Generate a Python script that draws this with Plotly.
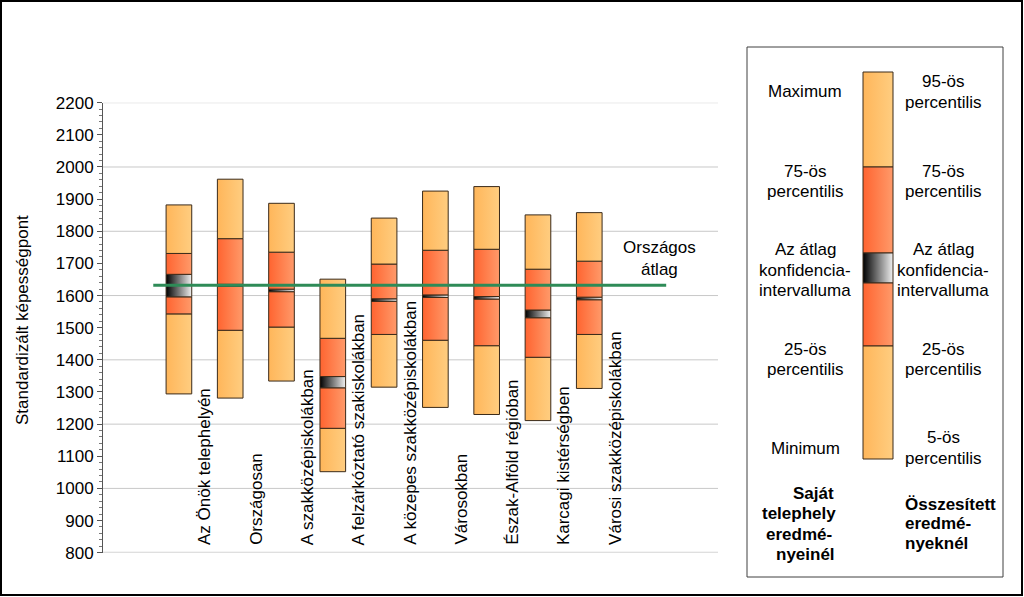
import plotly.graph_objects as go

# ---------------- data ----------------
categories = ["Az Önök telephelyén", "Országosan", "A szakközépiskolákban",
              "A felzárkóztató szakiskolákban", "A közepes szakközépiskolákban",
              "Városokban", "Észak-Alföld régióban", "Karcagi kistérségben",
              "Városi szakközépiskolákban"]
p5 = [1294, 1281, 1334, 1052, 1315, 1252, 1230, 1211, 1311]
p25 = [1543, 1492, 1502, 1187, 1479, 1461, 1444, 1408, 1479]
ci_low = [1596, 1629, 1612, 1313, 1582, 1594, 1589, 1531, 1587]
ci_high = [1666, 1635, 1620, 1348, 1590, 1602, 1597, 1555, 1595]
p75 = [1731, 1777, 1735, 1467, 1698, 1741, 1744, 1682, 1707]
p95 = [1882, 1962, 1887, 1651, 1841, 1925, 1939, 1851, 1858]
national_mean = 1632
national_label = "Országos<br>átlag"
y_title = "Standardizált képességpont"
y_ticks = list(range(800, 2201, 100))
grid_vals = list(range(800, 2201, 200))

# ---------------- styles ----------------
W, H = 1024, 597
FONT = "Liberation Sans, Arial, sans-serif"
LIGHT = [[0, "#FFB65A"], [1, "#FFCD80"]]
RED = [[0, "#FF6430"], [1, "#FF9A6A"]]
CI = [[0, "#000000"], [1, "#F0F0F0"]]
EDGE = "#3a2a1a"
half_w = 0.25

def px_x(p):
    return p / W

def px_y(p):
    return 1 - p / H

fig = go.Figure()

def seg(x, lo, hi, cs, xa="x", ya="y", hw=half_w):
    fig.add_trace(go.Scatter(
        x=[x - hw, x + hw, x + hw, x - hw, x - hw],
        y=[lo, lo, hi, hi, lo],
        mode="lines", fill="toself",
        fillgradient=dict(type="horizontal", colorscale=cs),
        line=dict(color=EDGE, width=1),
        xaxis=xa, yaxis=ya, hoverinfo="skip", showlegend=False))

for i in range(len(categories)):
    seg(i, p5[i], p25[i], LIGHT)
    seg(i, p25[i], ci_low[i], RED)
    seg(i, ci_low[i], ci_high[i], CI)
    seg(i, ci_high[i], p75[i], RED)
    seg(i, p75[i], p95[i], LIGHT)

# national average line
fig.add_trace(go.Scatter(
    x=[-0.5, len(categories) + 0.5], y=[national_mean, national_mean],
    mode="lines", line=dict(color="#2E8B57", width=3),
    hoverinfo="skip", showlegend=False))

# ---------------- legend key (pixel axes) ----------------
key_x0, key_x1 = 863, 893
key_b = [72, 167, 253, 283, 346, 459]
key_cs = [LIGHT, RED, CI, RED, LIGHT]
for k in range(5):
    seg((key_x0 + key_x1) / 2, key_b[k], key_b[k + 1], key_cs[k],
        xa="x2", ya="y2", hw=(key_x1 - key_x0) / 2)

shapes = []
for g in grid_vals:
    shapes.append(dict(type="line", xref="x domain", yref="y", x0=0, x1=1,
                       y0=g, y1=g, layer="below",
                       line=dict(color="#C8C8C8" if g > 800 else "#D4D4D4",
                                 width=1 if g > 800 else 2)))
# legend frame
shapes.append(dict(type="rect", xref="paper", yref="paper",
                   x0=px_x(747), x1=px_x(1003), y0=px_y(577), y1=px_y(47),
                   line=dict(color="#404040", width=1)))
# outer frame
shapes.append(dict(type="rect", xref="paper", yref="paper",
                   x0=px_x(1), x1=px_x(1022), y0=px_y(595), y1=px_y(1),
                   line=dict(color="#000000", width=2)))

ann = []
for i, c in enumerate(categories):
    ann.append(dict(text=c, x=i + 0.5, xref="x", y=px_y(547), yref="paper",
                    textangle=-90, xanchor="center", yanchor="bottom",
                    showarrow=False, font=dict(size=17, color="black")))
ann.append(dict(text=national_label, x=9.36, xref="x", y=px_y(259),
                yref="paper", showarrow=False, xanchor="center",
                yanchor="middle", font=dict(size=17, color="black")))
ann.append(dict(text=y_title, x=px_x(22), y=px_y(320), xref="paper",
                yref="paper", textangle=-90, showarrow=False,
                xanchor="center", yanchor="middle",
                font=dict(size=17, color="black")))

def text_block(lines, xc, yc, anchor="center", bold=False, step=20.5):
    n = len(lines)
    for j, t in enumerate(lines):
        if isinstance(xc, (list, tuple)):
            xx = xc[j]
        else:
            xx = xc
        yy = yc + (j - (n - 1) / 2) * step
        ann.append(dict(text=f"<b>{t}</b>" if bold else t,
                        x=px_x(xx), y=px_y(yy), xref="paper", yref="paper",
                        showarrow=False, xanchor=anchor, yanchor="middle",
                        font=dict(size=17, color="black")))

legend_left = [(["Maximum"], 92), (["75-ös", "percentilis"], 181.5),
               (["Az átlag", "konfidencia-", "intervalluma"], 270),
               (["25-ös", "percentilis"], 359.5), (["Minimum"], 448)]
legend_right = [(["95-ös", "percentilis"], 92),
                (["75-ös", "percentilis"], 181.5),
                (["Az átlag", "konfidencia-", "intervalluma"], 270),
                (["25-ös", "percentilis"], 359.5),
                (["5-ös", "percentilis"], 448)]
for lines, yy in legend_left:
    text_block(lines, 805, yy)
for lines, yy in legend_right:
    text_block(lines, 943, yy)
text_block(["Saját", "telephely", "eredmé-", "nyeinél"],
           [813, 799, 799, 805], 524, bold=True)
text_block(["Összesített", "eredmé-", "nyeknél"], 903, 523.5,
           anchor="left", bold=True, step=19.5)

fig.update_layout(
    width=W, height=H, autosize=False,
    margin=dict(l=0, r=0, t=0, b=0, pad=0, autoexpand=False),
    paper_bgcolor="white", plot_bgcolor="rgba(0,0,0,0)",
    font=dict(family=FONT, size=17, color="black"),
    showlegend=False,
    xaxis=dict(domain=[px_x(103), px_x(718)], range=[-1.48, 10.51],
               showgrid=False, zeroline=False, showticklabels=False,
               ticks="", showline=False, fixedrange=True, automargin=False),
    yaxis=dict(domain=[px_y(552.7), px_y(102.7)], range=[800, 2200],
               tickvals=y_ticks, ticks="outside", ticklen=5,
               tickcolor="#555555", showgrid=False, zeroline=False,
               showline=True, linecolor="#555555", linewidth=1,
               automargin=False,
               tickfont=dict(size=17, color="black"),
               minor=dict(dtick=20, ticks="outside", ticklen=3,
                          tickcolor="#777777", showgrid=False)),
    xaxis2=dict(domain=[0, 1], range=[0, W], visible=False, anchor="y2",
                automargin=False),
    yaxis2=dict(domain=[0, 1], range=[H, 0], visible=False, anchor="x2",
                automargin=False),
    shapes=shapes, annotations=ann,
)

fig.write_html(
    "out.html",
    config={"responsive": False, "displayModeBar": False},
    post_script=(
        "document.documentElement.style.margin='0';"
        "document.documentElement.style.padding='0';"
        "document.documentElement.style.overflow='hidden';"
        "document.body.style.margin='0';"
        "document.body.style.padding='0';"
        "document.body.style.overflow='hidden';"
        "var gd=document.getElementById('{plot_id}');"
        "gd.style.position='fixed';gd.style.top='0px';gd.style.left='0px';"
    ),
)
